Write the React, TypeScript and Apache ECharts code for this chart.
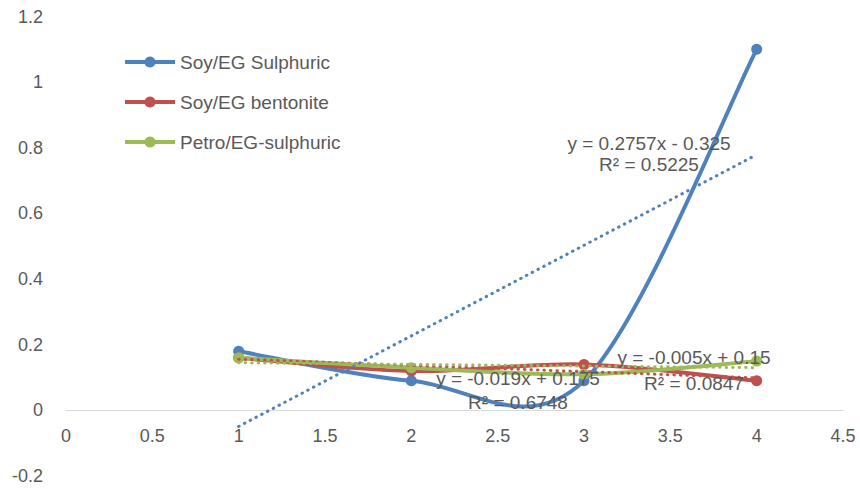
import React, { useEffect, useRef } from "react";
import * as echarts from "echarts";

const xValues = [1, 2, 3, 4];
const soySulphuric = [0.18, 0.09, 0.09, 1.1];
const soyBentonite = [0.16, 0.12, 0.14, 0.09];
const petroSulphuric = [0.16, 0.13, 0.11, 0.15];
const seriesNames = ["Soy/EG Sulphuric", "Soy/EG bentonite", "Petro/EG-sulphuric"];
const trendLabels = [
  ["y = 0.2757x - 0.325", "R² = 0.5225"],
  ["y = -0.019x + 0.175", "R² = 0.6748"],
  ["y = -0.005x + 0.15", "R² = 0.0847"],
];
const xTicks = { min: 0, max: 4.5, interval: 0.5 };
const yTicks = { min: -0.2, max: 1.2, interval: 0.2 };

const COLORS = ["#4F81BD", "#C0504D", "#9BBB59"];
const TEXT = "#595959";
const FONT = "'Liberation Sans', Arial, sans-serif";
const GRID = { left: 66, right: 17, top: 16.5, bottom: 13 };
const CHART_H = 489;

function linearFit(xs: number[], ys: number[]) {
  const n = xs.length;
  const mx = xs.reduce((a, b) => a + b, 0) / n;
  const my = ys.reduce((a, b) => a + b, 0) / n;
  let sxy = 0;
  let sxx = 0;
  for (let i = 0; i < n; i++) {
    sxy += (xs[i] - mx) * (ys[i] - my);
    sxx += (xs[i] - mx) * (xs[i] - mx);
  }
  const slope = sxy / sxx;
  const intercept = my - slope * mx;
  const x0 = xs[0];
  const x1 = xs[n - 1];
  return [
    [x0, intercept + slope * x0],
    [x1, intercept + slope * x1],
  ];
}

// Excel-style smoothed line: Catmull-Rom converted to cubic Bezier segments, in pixel space
function makeSmoothRenderer(ys: number[], color: string) {
  return (params: any, api: any) => {
    if (params.dataIndex !== 0) return { type: "group", children: [] };
    const pts = xValues.map((x, j) => api.coord([x, ys[j]]));
    const children: any[] = [];
    for (let i = 0; i < pts.length - 1; i++) {
      const p0 = pts[Math.max(0, i - 1)];
      const p1 = pts[i];
      const p2 = pts[i + 1];
      const p3 = pts[Math.min(pts.length - 1, i + 2)];
      children.push({
        type: "bezierCurve",
        shape: {
          x1: p1[0],
          y1: p1[1],
          cpx1: p1[0] + (p2[0] - p0[0]) / 6,
          cpy1: p1[1] + (p2[1] - p0[1]) / 6,
          cpx2: p2[0] - (p3[0] - p1[0]) / 6,
          cpy2: p2[1] - (p3[1] - p1[1]) / 6,
          x2: p2[0],
          y2: p2[1],
        },
        style: { stroke: color, lineWidth: 4, fill: null, lineCap: "round", lineJoin: "round" },
      });
    }
    return { type: "group", children };
  };
}

export default function App() {
  const ref = useRef<HTMLDivElement>(null);
  useEffect(() => {
    if (!ref.current) return;
    const chart = echarts.init(ref.current, null, { renderer: "svg" });
    const allY = [soySulphuric, soyBentonite, petroSulphuric];
    const mainSeries: any[] = [];
    allY.forEach((ys, i) => {
      mainSeries.push({
        name: seriesNames[i] + " curve",
        type: "custom",
        data: xValues.map((x, j) => [x, ys[j]]),
        encode: { x: 0, y: 1 },
        renderItem: makeSmoothRenderer(ys, COLORS[i]),
        z: 2 + i * 2,
        silent: true,
      });
      mainSeries.push({
        name: seriesNames[i],
        type: "line",
        data: xValues.map((x, j) => [x, ys[j]]),
        symbol: "circle",
        symbolSize: 11,
        itemStyle: { color: COLORS[i] },
        lineStyle: { color: COLORS[i], width: 4, opacity: 0 },
        z: 3 + i * 2,
      });
    });
    const trendSeries = allY.map((ys, i) => ({
      name: seriesNames[i] + " trend",
      type: "line",
      data: linearFit(xValues, ys),
      symbol: "none",
      lineStyle: { color: COLORS[i], width: 3, type: [0.5, 6], cap: "round" },
      z: 9 + i,
      silent: true,
    }));
    const labelPos = [
      [649, 143, 164],
      [518, 378, 402],
      [694, 357, 383],
    ];
    const graphics: any[] = [];
    trendLabels.forEach((lines, i) => {
      lines.forEach((t, k) => {
        graphics.push({
          type: "text",
          x: labelPos[i][0],
          y: labelPos[i][1 + k],
          z: 100,
          style: {
            text: t,
            fill: TEXT,
            font: `19px ${FONT}`,
            textAlign: "center",
            textVerticalAlign: "middle",
          },
        });
      });
    });
    const plotH = CHART_H - GRID.top - GRID.bottom;
    const zeroOffset = -plotH * (0 - yTicks.min) / (yTicks.max - yTicks.min);
    chart.setOption({
      animation: false,
      grid: { ...GRID, containLabel: false, outerBoundsMode: "none" },
      legend: {
        data: seriesNames.map((n, i) => ({
          name: n,
          lineStyle: { opacity: 1, width: 4, color: COLORS[i] },
        })),
        orient: "vertical",
        left: 123,
        top: 52,
        padding: 0,
        itemWidth: 50,
        itemHeight: 14,
        itemGap: 20,
        textStyle: { color: TEXT, fontSize: 19, fontFamily: FONT, lineHeight: 20 },
      },
      xAxis: {
        type: "value",
        min: xTicks.min,
        max: xTicks.max,
        interval: xTicks.interval,
        offset: zeroOffset,
        axisLine: { show: true, onZero: false, lineStyle: { color: "#D9D9D9", width: 1 } },
        axisTick: { show: false },
        splitLine: { show: false },
        axisLabel: { color: TEXT, fontSize: 18, fontFamily: FONT, margin: 17 },
      },
      yAxis: {
        type: "value",
        min: yTicks.min,
        max: yTicks.max,
        interval: yTicks.interval,
        axisLine: { show: false },
        axisTick: { show: false },
        splitLine: { show: false },
        axisLabel: {
          color: TEXT,
          fontSize: 18,
          fontFamily: FONT,
          margin: 23,
          formatter: (v: number) => String(Math.round(v * 10) / 10),
        },
      },
      series: [...mainSeries, ...trendSeries],
      graphic: graphics,
    });
    return () => chart.dispose();
  }, []);
  return <div ref={ref} style={{ width: 860, height: 489, position: "absolute", left: 0, top: 0 }} />;
}
